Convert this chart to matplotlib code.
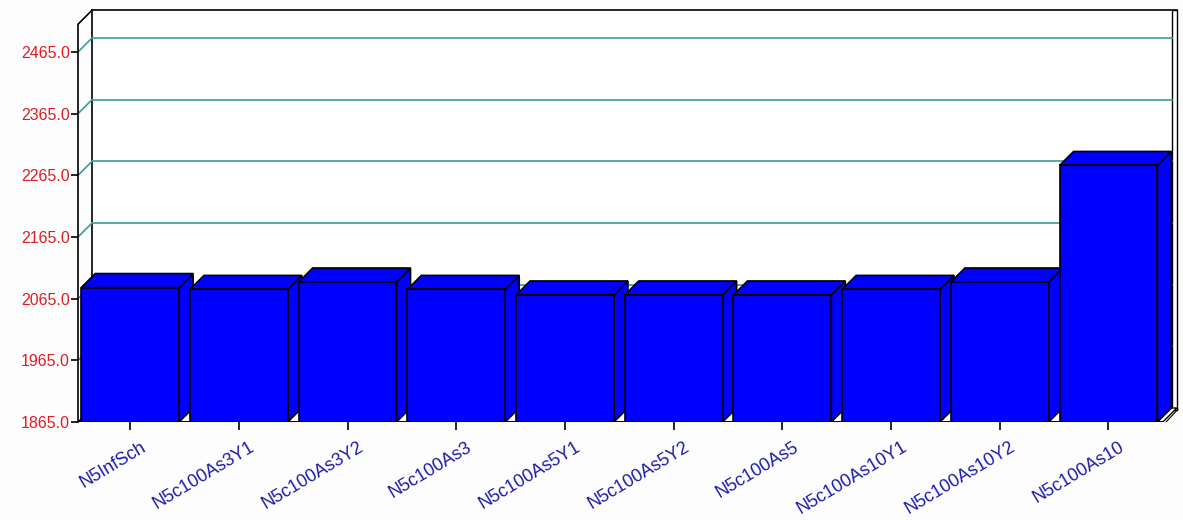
import matplotlib
matplotlib.use('Agg')
import matplotlib.pyplot as plt
import matplotlib.transforms as mtransforms
from matplotlib.patches import Polygon
import numpy as np

plt.rcParams['font.family'] = ['Liberation Sans', 'DejaVu Sans']

# data
categories = ['N5InfSch', 'N5c100As3Y1', 'N5c100As3Y2', 'N5c100As3', 'N5c100As5Y1',
              'N5c100As5Y2', 'N5c100As5', 'N5c100As10Y1', 'N5c100As10Y2', 'N5c100As10']
values = [2083, 2080, 2092, 2080, 2071, 2071, 2071, 2080, 2092, 2281]
y_ticks = [1865, 1965, 2065, 2165, 2265, 2365, 2465]

# frame geometry
ymin, ymax = 1865, 2510
x_left, x_right = -0.48, 9.5
dx, dy = 0.129, 22.7          # 3D depth offset (data units)
bar_w = 0.9

BLUE = '#0000ff'
GRID = '#3a9c9c'
RED = '#dd1c24'
NAVY = '#1c1ca8'

fig = plt.figure(figsize=(11.83, 5.20), dpi=100)
fig.patch.set_facecolor('#fdfdfd')
W, H = 1183, 520
ax = fig.add_axes([78 / W, (H - 422) / H, (1180 - 78) / W, (422 - 5) / H])
ax.set_facecolor('none')
ax.set_xlim(x_left, x_left + 1102 / 108.7)
ax.set_ylim(ymin, ymin + 417 / 0.6167)
for s in ax.spines.values():
    s.set_visible(False)

bx0, bx1 = x_left + dx, x_right + dx
by0, by1 = ymin + dy, ymax + dy

# back wall
ax.add_patch(Polygon([(bx0, by0), (bx0, by1), (bx1, by1), (bx1, by0)], closed=True,
                     facecolor='white', edgecolor='black', lw=1.2, zorder=1))
# right wall slab
ax.add_patch(Polygon([(bx1 - 0.045, by0 - 3), (bx1 - 0.045, by1), (bx1, by1), (bx1, by0 - 3)],
                     closed=True, facecolor='white', edgecolor='black', lw=1.0, zorder=1))

# gridlines
for v in y_ticks[1:]:
    ax.plot([x_left, bx0], [v, v + dy], color=GRID, lw=1.2, zorder=2)
    ax.plot([bx0, bx1 - 0.045], [v + dy, v + dy], color=GRID, lw=1.2, zorder=2)

# floor
ax.add_patch(Polygon([(x_left, ymin), (x_right, ymin), (bx1, by0), (bx0, by0)], closed=True,
                     facecolor='white', edgecolor='black', lw=1.0, zorder=2))
ax.plot([x_right + 0.03, bx1 + 0.01], [ymin, by0 - 2], color='black', lw=0.8, zorder=2)

# front left axis
ax.plot([x_left, x_left, bx0], [ymin, ymax, by1], color='black', lw=1.2, zorder=3,
        clip_on=False)

# bars with 3D faces
for i, v in enumerate(values):
    l, r = i - bar_w / 2, i + bar_w / 2
    side = [(r, ymin), (r + dx, ymin + dy), (r + dx, v + dy), (r, v)]
    top = [(l, v), (l + dx, v + dy), (r + dx, v + dy), (r, v)]
    front = [(l, ymin), (l, v), (r, v), (r, ymin)]
    for pts in (side, top, front):
        ax.add_patch(Polygon(pts, closed=True, facecolor=BLUE, edgecolor='black',
                             lw=1.2, zorder=4 + i * 0.01))

# front bottom edge
ax.plot([x_left, x_right], [ymin, ymin], color='black', lw=1.4, zorder=6)

# y ticks
ax.set_yticks(y_ticks)
ax.set_yticklabels([f'{v:.1f}' for v in y_ticks], color=RED, fontsize=11.5)
ax.tick_params(axis='y', length=5, width=1.2, color='black', pad=1)

# x ticks
ax.set_xticks(range(len(categories)))
ax.set_xticklabels(categories, rotation=31, ha='right', va='top',
                   rotation_mode='anchor', color=NAVY, fontsize=13)
ax.tick_params(axis='x', length=6, width=1.2, color='black', pad=6)
shift = mtransforms.ScaledTranslation(10 / 100, 0, fig.dpi_scale_trans)
for lab in ax.get_xticklabels():
    lab.set_transform(lab.get_transform() + shift)

fig.savefig('out.png', dpi=100, facecolor=fig.get_facecolor())
